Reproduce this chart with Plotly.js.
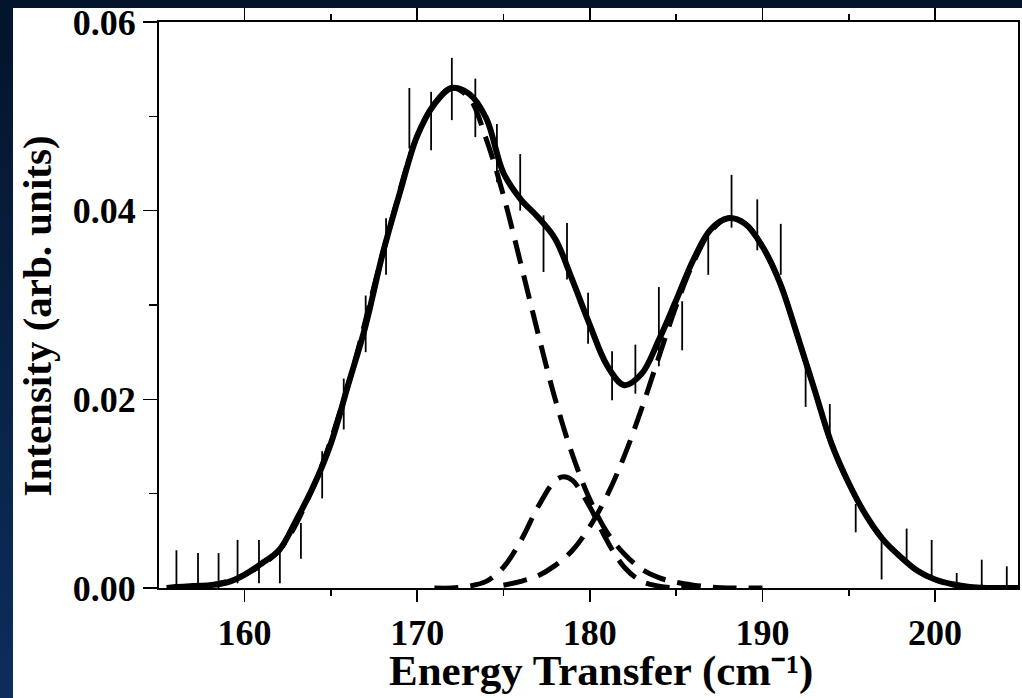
<!DOCTYPE html>
<html>
<head>
<meta charset="utf-8">
<script src="https://cdn.plot.ly/plotly-3.0.1.min.js"></script>
<style>
  html, body { margin:0; padding:0; width:1022px; height:698px; overflow:hidden;
    background: linear-gradient(180deg, #03142b 0%, #082346 55%, #0c2d5c 100%); }
  #chart { position:absolute; left:0; top:0; width:1022px; height:698px; }
</style>
</head>
<body>
<div id="chart"></div>
<script>
// Measured data points (energy transfer, intensity, error)
const dataX = [156.06,157.31,158.50,159.60,160.84,162.05,163.27,164.50,165.75,167.02,168.20,169.55,170.81,172.01,173.37,174.62,175.97,177.32,178.68,179.90,181.29,182.64,184.00,185.35,186.86,188.21,189.70,191.06,192.50,193.90,195.40,196.90,198.35,199.80,201.25,202.70,204.15];
const dataY = [0.0017,0.0014,0.0014,0.0028,0.0028,0.0023,0.0050,0.0120,0.0195,0.0280,0.0362,0.0498,0.0495,0.0529,0.0509,0.0461,0.0430,0.0365,0.0357,0.0286,0.0225,0.0232,0.0277,0.0278,0.0356,0.0410,0.0385,0.0359,0.0217,0.0175,0.0074,0.0031,0.0045,0.0030,0.0003,0.0008,0.0002];
const dataErr = [0.0023,0.0023,0.0023,0.0023,0.0023,0.0018,0.0019,0.0025,0.0027,0.0030,0.0030,0.0032,0.0031,0.0033,0.0031,0.0031,0.0030,0.0030,0.0030,0.0027,0.0026,0.0026,0.0042,0.0026,0.0024,0.0028,0.0027,0.0027,0.0025,0.0020,0.0015,0.0022,0.0018,0.0021,0.0013,0.0022,0.0021];

// Total fit (solid curve)
const fitX = [155.5,156,157,158,159,160,161,162,163,164,165,166,167,168,169,170,171,172,173,174,175,176,177,178,179,180,181,182,183,184,185,186,187,188,189,190,191,192,193,194,195,196,197,198,199,200,201,202,203,204,204.8];
const fitY = [0.0000,0.0001,0.0002,0.0003,0.0006,0.0014,0.0026,0.0040,0.0072,0.0108,0.0153,0.0215,0.0277,0.0354,0.0419,0.0479,0.0513,0.0530,0.0524,0.0498,0.0440,0.0412,0.0393,0.0370,0.0326,0.0279,0.0236,0.0215,0.0227,0.0263,0.0305,0.0348,0.0380,0.0392,0.0386,0.0362,0.0324,0.0269,0.0211,0.0153,0.0111,0.0077,0.0051,0.0033,0.0018,0.0009,0.0004,0.0001,0.0000,0.0000,0.0000];

// Component 1 (low-energy peak, dashed)
const compAX = [155.5,158,160,162,164,166,168,170,171,172,173,174,175,176,177,178,179,180,181,182,183,184,185,186,187,188,190];
const compAY = [0.0000,0.0003,0.0014,0.0040,0.0108,0.0215,0.0354,0.0479,0.0513,0.0530,0.0520,0.0476,0.0416,0.0344,0.0270,0.0200,0.0141,0.0094,0.0059,0.0036,0.0020,0.0011,0.0006,0.0003,0.0001,0.0000,0.0000];

// Component 2 (small middle peak, dashed)
const compBX = [171,172,173,174,175,176,177,178,178.5,179,180,181,182,183,184,185,186];
const compBY = [0.0000,0.0000,0.0002,0.0007,0.0022,0.0050,0.0086,0.0114,0.0118,0.0114,0.0086,0.0050,0.0022,0.0007,0.0002,0.0000,0.0000];

// Component 3 (high-energy peak, dashed)
const compCX = [175,176,177,178,179,180,181,182,183,184,185,186,187,188,189,190,191,192,193,194,195,196,197,198,199,200,201,202,204.8];
const compCY = [0.0003,0.0007,0.0013,0.0024,0.0040,0.0065,0.0098,0.0140,0.0190,0.0245,0.0299,0.0345,0.0378,0.0392,0.0386,0.0362,0.0324,0.0269,0.0211,0.0153,0.0111,0.0077,0.0051,0.0033,0.0018,0.0009,0.0004,0.0001,0.0000];

const yTickVals = [0, 0.02, 0.04, 0.06];
const yTickText = ["0.00", "0.02", "0.04", "0.06"];
const xTickVals = [160, 170, 180, 190, 200];
const xTickText = ["160", "170", "180", "190", "200"];
const xTitle = 'Energy Transfer (cm\u207B\u00B9)';
const yTitle = 'Intensity (arb. units)';

const FONT = '"Liberation Serif", "Times New Roman", serif';
const dashStyle = '24px,12px';

const traces = [
  { x: compAX, y: compAY, mode: 'lines', line: {color: '#000', width: 5, dash: dashStyle, shape: 'spline'}, hoverinfo: 'skip' },
  { x: compBX, y: compBY, mode: 'lines', line: {color: '#000', width: 5, dash: dashStyle, shape: 'spline'}, hoverinfo: 'skip' },
  { x: compCX, y: compCY, mode: 'lines', line: {color: '#000', width: 5, dash: dashStyle, shape: 'spline'}, hoverinfo: 'skip' },
  { x: fitX, y: fitY, mode: 'lines', line: {color: '#000', width: 6, shape: 'spline'}, hoverinfo: 'skip' },
  { x: dataX, y: dataY, mode: 'markers', marker: {size: 1, color: 'rgba(0,0,0,0)'},
    error_y: {type: 'data', array: dataErr, visible: true, width: 0, thickness: 1.8, color: '#000'} }
];

const layout = {
  width: 1022, height: 698,
  paper_bgcolor: 'rgba(0,0,0,0)', plot_bgcolor: 'rgba(0,0,0,0)',
  showlegend: false,
  margin: {l: 159, r: 4, t: 22, b: 110},
  font: {family: FONT, color: '#000', size: 36},
  shapes: [
    { type: 'rect', xref: 'paper', yref: 'paper', x0: -0.16997, x1: 1.00466, y0: -0.19435, y1: 1.02473,
      fillcolor: '#ffffff', line: {width: 0}, layer: 'below' }
  ],
  xaxis: {
    range: [155.05, 204.8], showgrid: false, zeroline: false,
    showline: true, linecolor: '#000', linewidth: 2, mirror: 'ticks',
    ticks: 'outside', ticklen: 12, tickwidth: 1.5, tickcolor: '#000',
    tickvals: xTickVals, ticktext: xTickText,
    tickfont: {family: FONT, size: 36, color: '#000', weight: 'bold'},
    minor: {dtick: 5, tick0: 155, ticks: 'outside', ticklen: 6, tickwidth: 1.5, tickcolor: '#000', showgrid: false},
    automargin: false
  },
  yaxis: {
    range: [0, 0.06], showgrid: false, zeroline: false,
    showline: true, linecolor: '#000', linewidth: 2, mirror: true,
    ticks: 'outside', ticklen: 14, tickwidth: 1.5, tickcolor: '#000',
    tickvals: yTickVals, ticktext: yTickText,
    tickfont: {family: FONT, size: 36, color: '#000', weight: 'bold'},
    minor: {dtick: 0.01, tick0: 0, ticks: 'outside', ticklen: 8, tickwidth: 1.5, tickcolor: '#000', showgrid: false},
    automargin: false
  },
  annotations: [
    { text: xTitle, xref: 'paper', yref: 'paper', x: 0.5146, y: -0.1466,
      xanchor: 'center', yanchor: 'middle', showarrow: false,
      font: {family: FONT, size: 43, color: '#000', weight: 'bold'} },
    { text: yTitle, xref: 'paper', yref: 'paper', x: -0.142, y: 0.4797, textangle: -90,
      xanchor: 'center', yanchor: 'middle', showarrow: false,
      font: {family: FONT, size: 41, color: '#000', weight: 'bold'} }
  ]
};

Plotly.newPlot('chart', traces, layout, {displayModeBar: false, staticPlot: true});
</script>
</body>
</html>
